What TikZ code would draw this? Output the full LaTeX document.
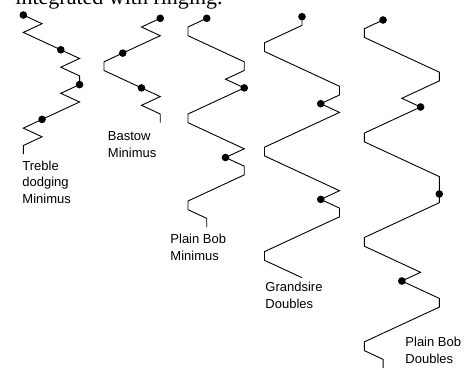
\documentclass[tikz,border=0pt]{standalone}
\usepackage{fontspec}
\setmainfont{Liberation Serif}
\newfontfamily\arialfont{Liberation Sans}
\usepackage{tikz}
\usetikzlibrary{calc}

\begin{document}
\begin{tikzpicture}[x=1pt, y=-1pt, line width=0.9pt,
    methodname/.style={font=\arialfont\fontsize{13}{16.5}\selectfont, align=left, anchor=base west, inner sep=0pt},
    leadhead/.style={fill=black}]

  \useasboundingbox (0,0) rectangle (465,369);

	\def\d{18.75};
	\def\r{8.7};

%text above, cut off
    \node[font=\fontsize{22}{26}\selectfont, anchor=base west, inner sep=0pt] (above) at (15, 4.5) {integrated with ringing.};

%Treble dodging Minimus
	\def\dx{23.3-\d};
	\def\dy{15};
    \draw (\d+\dx, \dy) \foreach \p [count=\i] in {2,1,2,3,4,3,4,4,3,4,3,2,1,2,1,1} { -- (\p*\d + \dx, \i*\r + \dy) };
    \foreach \i/\p/\name in {0/1/td0, 4/3/td1, 8/4/td2, 12/2/td3} {
         \fill[leadhead] (\p*\d + \dx, \i*\r + \dy) circle (3.8);
    }
    \node[methodname] (tdname) at (22, 203) {Treble\\dodging\\Minimus};

%Bastow Minimus
	\def\dx{104-\d};
	\def\dy{18.3};
    \draw (4*\d+\dx, \dy) \foreach \p [count=\i] in {3,4,3,2,1,1,2,3,4,3,4,4} { -- (\p*\d + \dx, \i*\r + \dy) };
    \foreach \i/\p/\name in {0/4/bm0, 4/2/bm1, 8/3/bm2} {
         \fill[leadhead] (\p*\d + \dx, \i*\r + \dy) circle (3.8);
    }
    \node[methodname] (bmname) at (107.5, 157) {Bastow\\Minimus};

%Plain Bob Minimus
	\def\dx{188-\d};
	\def\dy{18.3};
    \draw (2*\d+\dx, \dy) \foreach \p [count=\i] in {1,1,2,3,4,4,3,4,3,2,1,1,2,3,4,3,4,4,3,2,1,1,2,2} { -- (\p*\d + \dx, \i*\r + \dy) };
    \foreach \i/\p/\name in {0/2/pm0, 8/4/pm1, 16/3/pm2} {
         \fill[leadhead] (\p*\d + \dx, \i*\r + \dy) circle (3.8);
    }
    \node[methodname] (pmname) at (170, 260) {Plain Bob\\Minimus};

%Grandsire Doubles
	\def\dx{264.5-\d};
	\def\dy{16.7};
    \draw (3*\d+\dx, \dy) \foreach \p [count=\i] in {3,2,1,1,2,3,4,5,5,4,5,4,3,2,1,1,2,3,4,5,4,5,5,4,3,2,1,1,2,3} { -- (\p*\d + \dx, \i*\r + \dy) };
    \foreach \i/\p/\name in {0/3/gd0, 10/4/gd1, 21/4/gd2} {
         \fill[leadhead] (\p*\d + \dx, \i*\r + \dy) circle (3.8);
    }
    \node[methodname] (gdname) at (265, 308) {Grandsire\\Doubles};

%Plain Bob Doubles
	\def\dx{364.3-\d};
	\def\dy{20};
    \draw (2*\d+\dx, \dy) \foreach \p [count=\i] in {1,1,2,3,4,5,5,4,3,4,3,2,1,1,2,3,4,5,5,5,5,4,3,2,1,1,2,3,4,3,4,5,5,4,3,2,1,1,2,2} { -- (\p*\d + \dx, \i*\r + \dy) };
    \foreach \i/\p/\name in {0/2/pd0, 10/4/pd1, 20/5/pd2, 30/3/pd3} {
         \fill[leadhead] (\p*\d + \dx, \i*\r + \dy) circle (3.8);
    }
    \node[methodname] (pdname) at (405, 363) {Plain Bob\\Doubles};

\end{tikzpicture}
\end{document}
